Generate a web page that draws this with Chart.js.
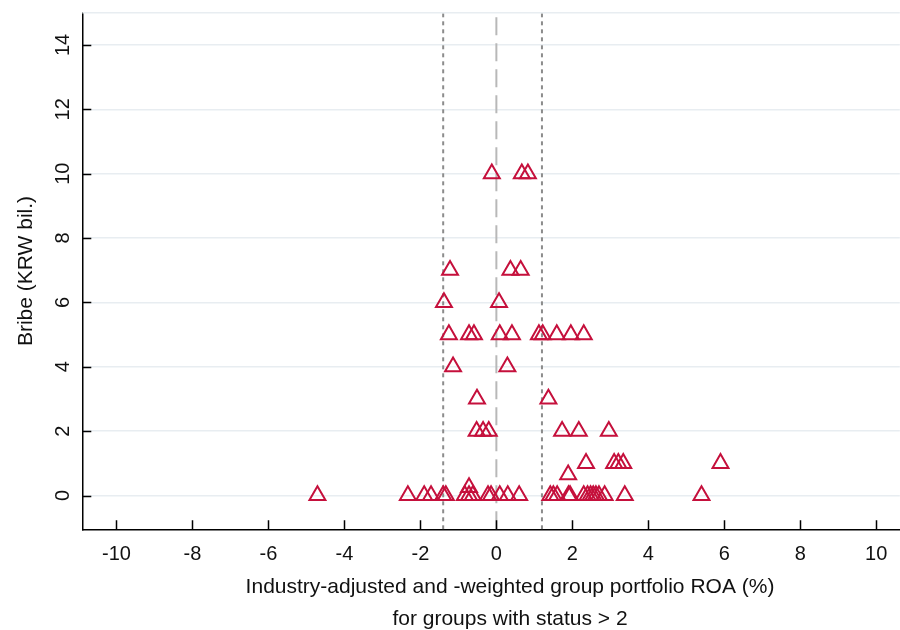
<!DOCTYPE html>
<html>
<head>
<meta charset="utf-8">
<script src="https://cdn.jsdelivr.net/npm/chart.js@4.4.1/dist/chart.umd.min.js"></script>
<style>
  html, body { margin: 0; padding: 0; background: #fff; overflow: hidden; }
  /* the plot runs off the right edge of the picture, so the canvas is a bit wider than the frame */
  #wrap { width: 900px; height: 630px; overflow: hidden; }
</style>
</head>
<body>
<div id="wrap"><canvas id="chart" width="911" height="630"></canvas></div>
<script>
// Industry-adjusted group ROA (%) and bribe (KRW bil.), one entry per group
const roa = [
  -0.12, 0.67, 0.83,
  -1.22, 0.37, 0.64,
  -1.38, 0.07,
  -1.25, -0.72, -0.59, 0.09, 0.41, 1.12, 1.22, 1.59, 1.96, 2.30,
  -1.14, 0.29,
  -0.51, 1.37,
  -0.52, -0.35, -0.20, 1.73, 2.17, 2.96,
  2.36, 3.10, 3.21, 3.34, 5.90,
  1.89,
  -0.72,
  -4.71, -2.33, -1.90, -1.72, -1.40, -1.33, -0.83, -0.72, -0.62, -0.22, -0.14, 0.09, 0.30, 0.60,
  1.42, 1.50, 1.60, 1.90, 1.94, 2.30, 2.40, 2.48, 2.55, 2.62, 2.70, 2.85, 3.38, 5.40
];
const bribe = [
  10, 10, 10,
  7, 7, 7,
  6, 6,
  5, 5, 5, 5, 5, 5, 5, 5, 5, 5,
  4, 4,
  3, 3,
  2, 2, 2, 2, 2, 2,
  1, 1, 1, 1, 1,
  0.65,
  0.25,
  0, 0, 0, 0, 0, 0, 0, 0, 0, 0, 0, 0, 0, 0,
  0, 0, 0, 0, 0, 0, 0, 0, 0, 0, 0, 0, 0, 0
];

// vertical reference lines: mean (long dash) and the two cut-offs (short dash)
const meanLine = [0];
const cutLines = [-1.4, 1.2];

const xTicks = [-10, -8, -6, -4, -2, 0, 2, 4, 6, 8, 10];
const yTicks = [0, 2, 4, 6, 8, 10, 12, 14];
const xRange = [-10.9, 10.62];
const yRange = [-1.05, 15];

const xTitleLines = ['Industry-adjusted and -weighted group portfolio ROA (%)', 'for groups with status > 2'];
const yTitle = 'Bribe (KRW bil.)';

const FONT = '"Liberation Sans", Arial, Helvetica, sans-serif';
const RED = '#c5103c';
const GRID = '#e8edf1';

const vline = (v, color, dash) => ({
  type: 'line',
  data: [{ x: v, y: yRange[0] }, { x: v, y: yRange[1] }],
  borderColor: color,
  borderWidth: 2,
  borderDash: dash,
  pointRadius: 0,
  fill: false,
  order: 2
});

// inward tick marks, light top frame line and the two-line x title
const axisDecor = {
  id: 'axisDecor',
  afterDraw(chart) {
    const { ctx, chartArea: a, scales: { x, y } } = chart;
    ctx.save();
    ctx.strokeStyle = GRID;
    ctx.lineWidth = 1.5;
    ctx.beginPath();
    ctx.moveTo(a.left, a.top);
    ctx.lineTo(a.right, a.top);
    ctx.stroke();

    ctx.strokeStyle = '#000';
    ctx.lineWidth = 1.5;
    ctx.beginPath();
    xTicks.forEach(v => {
      const px = Math.round(x.getPixelForValue(v)) + 0.5;
      ctx.moveTo(px, a.bottom);
      ctx.lineTo(px, a.bottom - 9);
    });
    yTicks.forEach(v => {
      const py = Math.round(y.getPixelForValue(v)) + 0.5;
      ctx.moveTo(a.left, py);
      ctx.lineTo(a.left + 9, py);
    });
    ctx.stroke();

    ctx.fillStyle = '#111';
    ctx.font = '21px ' + FONT;
    ctx.textAlign = 'center';
    ctx.textBaseline = 'alphabetic';
    xTitleLines.forEach((t, i) => ctx.fillText(t, 510, 593 + i * 32));
    ctx.restore();
  }
};

const datasets = [
  {
    type: 'scatter',
    data: roa.map((v, i) => ({ x: v, y: bribe[i] })),
    pointStyle: 'triangle',
    pointRadius: 9.2,
    pointBorderWidth: 2,
    pointBorderColor: RED,
    pointBackgroundColor: 'rgba(0,0,0,0)',
    order: 1
  },
  ...meanLine.map(v => vline(v, '#b8b8b8', [18, 8])),
  ...cutLines.map(v => vline(v, '#8c8c8c', [4, 4]))
];

new Chart(document.getElementById('chart'), {
  type: 'scatter',
  data: { datasets },
  plugins: [axisDecor],
  options: {
    responsive: false,
    animation: false,
    events: [],
    layout: { padding: { top: 12.7, right: 0, left: 0, bottom: 0 } },
    plugins: { legend: { display: false }, tooltip: { enabled: false } },
    scales: {
      x: {
        type: 'linear',
        min: xRange[0],
        max: xRange[1],
        afterBuildTicks: s => { s.ticks = xTicks.map(v => ({ value: v })); },
        afterFit: s => { s.height = 100.7; s.paddingLeft = 0; s.paddingRight = 0; },
        grid: { drawOnChartArea: false, drawTicks: false },
        border: { color: '#000', width: 1.5 },
        ticks: { color: '#111', font: { family: FONT, size: 20 }, padding: 13, maxRotation: 0 }
      },
      y: {
        type: 'linear',
        min: yRange[0],
        max: yRange[1],
        afterBuildTicks: s => { s.ticks = yTicks.map(v => ({ value: v })); },
        afterFit: s => { s.width = 82.3; s.paddingTop = 0; s.paddingBottom = 0; },
        grid: { color: GRID, lineWidth: 1.5, drawTicks: false },
        border: { color: '#000', width: 1.5 },
        ticks: {
          color: '#111',
          font: { family: FONT, size: 20 },
          padding: 8,
          minRotation: 90,
          maxRotation: 90,
          crossAlign: 'center'
        },
        title: {
          display: true,
          text: yTitle,
          color: '#111',
          font: { family: FONT, size: 21 },
          padding: { top: 14, bottom: 0 }
        }
      }
    }
  }
});
</script>
</body>
</html>
